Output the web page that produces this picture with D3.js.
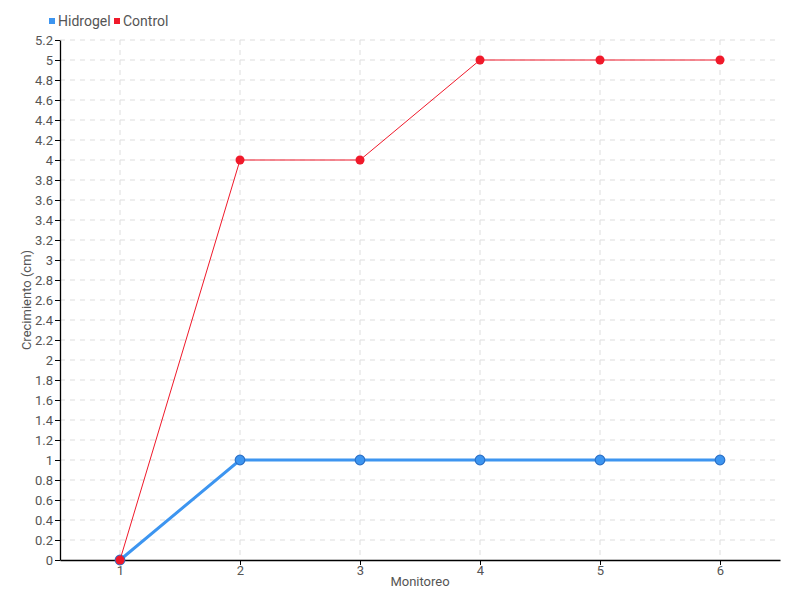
<!DOCTYPE html>
<html><head><meta charset="utf-8">
<script src="https://cdn.jsdelivr.net/npm/d3@7"></script>
<style>
body{margin:0;background:#fff;}
text{font-family:Roboto,"Liberation Sans Narrow",sans-serif;fill:#555;}
</style></head><body>
<svg id="c" width="800" height="600"></svg>
<script>
const categories = [1, 2, 3, 4, 5, 6];
const hidrogel = [0, 1, 1, 1, 1, 1];
const control = [0, 4, 4, 5, 5, 5];
const yTicks = [0,0.2,0.4,0.6,0.8,1,1.2,1.4,1.6,1.8,2,2.2,2.4,2.6,2.8,3,3.2,3.4,3.6,3.8,4,4.2,4.4,4.6,4.8,5,5.2];
const seriesNames = ["Hidrogel", "Control"];
const colors = ["#3d95f0", "#f0192a"];

const FONT = 'Roboto,"Liberation Sans Narrow",sans-serif';
const svg = d3.select("#c");
const m = {l:60, r:20, t:40, b:40};
const W = 800, H = 600;
const x = d3.scaleLinear().domain([0.5, 6.5]).range([m.l, W - m.r]);
const y = d3.scaleLinear().domain([0, 5.2]).range([H - m.b, m.t]);

// grid
const g = svg.append("g");
g.selectAll("line.h").data(yTicks.filter(d=>d>0)).enter().append("line")
  .attr("x1", m.l).attr("x2", W - m.r).attr("y1", d=>y(d)).attr("y2", d=>y(d))
  .attr("stroke", "#dddddd").attr("stroke-dasharray", "5,5");
g.selectAll("line.v").data(categories).enter().append("line")
  .attr("y1", m.t).attr("y2", H - m.b).attr("x1", d=>x(d)).attr("x2", d=>x(d))
  .attr("stroke", "#dddddd").attr("stroke-dasharray", "5,5");

// axes
const yAxis = svg.append("g").attr("transform", `translate(${m.l},0)`)
  .call(d3.axisLeft(y).tickValues(yTicks).tickFormat(d3.format("~g")).tickSize(5).tickSizeOuter(0));
const xAxis = svg.append("g").attr("transform", `translate(0,${H - m.b})`)
  .call(d3.axisBottom(x).tickValues(categories).tickFormat(d3.format("d")).tickSize(5).tickSizeOuter(0));
[yAxis, xAxis].forEach(a => {
  a.select(".domain").attr("stroke", "#000").attr("stroke-width", 1.3);
  a.selectAll(".tick line").attr("stroke", "#000");
  a.selectAll("text").attr("font-size", 13).attr("fill", "#555").style("font-family", FONT);
});
yAxis.selectAll("text").attr("x", -7);
xAxis.selectAll("text").attr("y", 6);

// axis titles
svg.append("text").attr("x", (m.l + W - m.r)/2).attr("y", 586).attr("text-anchor", "middle")
  .attr("font-size", 13).text("Monitoreo");
svg.append("text").attr("transform", `translate(31,${(m.t + H - m.b)/2}) rotate(-90)`)
  .attr("text-anchor", "middle").attr("font-size", 13).text("Crecimiento (cm)");

// lines
const line = d3.line().x((d,i)=>x(categories[i])).y(d=>y(d));
svg.append("path").datum(hidrogel).attr("d", line).attr("fill", "none")
  .attr("stroke", colors[0]).attr("stroke-width", 3);
svg.selectAll("circle.h").data(hidrogel).enter().append("circle")
  .attr("cx", (d,i)=>x(categories[i])).attr("cy", d=>y(d)).attr("r", 4.8)
  .attr("fill", colors[0]).attr("stroke", "#2a70c8").attr("stroke-width", 1.2);
svg.append("path").datum(control).attr("d", line).attr("fill", "none")
  .attr("stroke", colors[1]).attr("stroke-width", 1);
svg.selectAll("circle.c").data(control).enter().append("circle")
  .attr("cx", (d,i)=>x(categories[i])).attr("cy", d=>y(d)).attr("r", 4.5)
  .attr("fill", colors[1]);

// legend
const lg = svg.append("g");
const lx = [49, 114];
seriesNames.forEach((n,i)=>{
  lg.append("rect").attr("x", lx[i]).attr("y", 18).attr("width", 6).attr("height", 6).attr("fill", colors[i]);
  lg.append("text").attr("x", lx[i] + 9).attr("y", 26).attr("font-size", 14).text(n);
});
</script></body></html>
